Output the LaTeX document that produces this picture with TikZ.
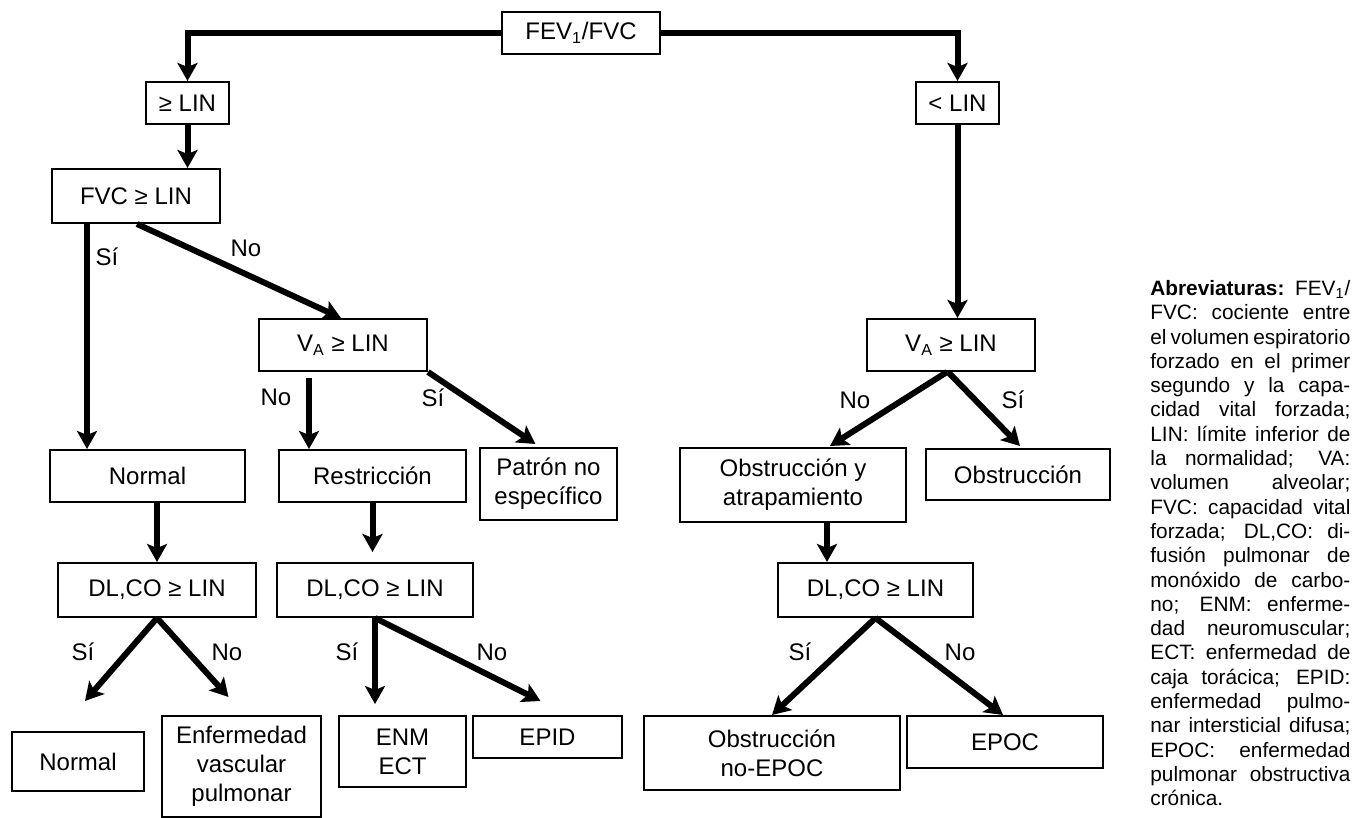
\documentclass[tikz,border=0pt]{standalone}
\usepackage{fontspec}
\setmainfont{Liberation Sans}
\usetikzlibrary{arrows.meta}
\usetikzlibrary{calc}

\begin{document}
\begin{tikzpicture}[x=0.5pt,y=-0.5pt,
  box/.style={draw, line width=1pt, inner sep=0pt, align=center, font=\fontsize{12}{14.4}\selectfont},
  lbl/.style={inner sep=0pt, font=\fontsize{12}{14.4}\selectfont},
  link/.style={line width=3pt, -{Stealth[length=9pt,width=10pt,inset=2pt]}},
  abrv/.style={inner sep=0pt, text width=100pt, align=justify, font=\fontsize{10.4}{12.15}\selectfont}]
  \useasboundingbox (0,0) rectangle (1360,818);

  % boxes
  \node[box, minimum width=79pt, minimum height=21pt] (fev) at (581,33) {FEV\textsubscript{1}/FVC};
  \node[box, minimum width=41.5pt, minimum height=21pt] (gelin) at (187.5,103) {≥ LIN};
  \node[box, minimum width=41.5pt, minimum height=21pt] (ltlin) at (957.5,103) {< LIN};
  \node[box, minimum width=84pt, minimum height=27pt] (fvc) at (136,196) {FVC ≥ LIN};
  \node[box, minimum width=84pt, minimum height=26pt] (vaA) at (343,345) {V\textsubscript{A} ≥ LIN};
  \node[box, minimum width=84pt, minimum height=26pt] (vaB) at (951,345) {V\textsubscript{A} ≥ LIN};
  \node[box, minimum width=97.5pt, minimum height=26pt] (normA) at (147.5,476) {Normal};
  \node[box, minimum width=93.5pt, minimum height=26pt] (restr) at (372.5,476) {Restricción};
  \node[box, minimum width=68.5pt, minimum height=36pt] (patron) at (548.5,484) {Patrón no\\específico};
  \node[box, minimum width=113pt, minimum height=37pt] (obsatr) at (793,485) {Obstrucción y\\atrapamiento};
  \node[box, minimum width=92pt, minimum height=25.5pt] (obstr) at (1018,474.5) {Obstrucción};
  \node[box, minimum width=99pt, minimum height=27pt] (dlcoA) at (157,590) {DL,CO ≥ LIN};
  \node[box, minimum width=98pt, minimum height=27pt] (dlcoB) at (375,590) {DL,CO ≥ LIN};
  \node[box, minimum width=97.5pt, minimum height=27pt] (dlcoC) at (875.5,590) {DL,CO ≥ LIN};
  \node[box, minimum width=66pt, minimum height=29.5pt] (normB) at (78,761.5) {Normal};
  \node[box, minimum width=79.5pt, minimum height=50.5pt] (evp) at (241.5,766.5) {Enfermedad\\vascular\\pulmonar};
  \node[box, minimum width=63.5pt, minimum height=35.5pt] (enmect) at (402.5,751.5) {ENM\\ECT};
  \node[box, minimum width=74.5pt, minimum height=21pt] (epid) at (547.5,737) {EPID};
  \node[box, minimum width=128pt, minimum height=37pt] (obsno) at (772,753) {Obstrucción\\no-EPOC};
  \node[box, minimum width=98pt, minimum height=26pt] (epoc) at (1005,742) {EPOC};

  % arrows
  \draw[link] (fev.west) -| (gelin.north);
  \draw[link] (fev.east) -| (ltlin.north);
  \draw[link] (gelin.south) -- (gelin.south |- fvc.north);
  \draw[link] ($(fvc.south)+(-49,0)$) -- ($(normA.north)+(-60.5,0)$);
  \draw[link] ($(fvc.south)+(1,0)$) -- ($(vaA.north)+(-2,0)$);
  \draw[link] ($(vaA.south)+(-34,6)$) -- ($(restr.north)+(-63.5,0)$);
  \draw[link] (vaA.south east) -- ($(patron.north)+(-13,-3)$);
  \draw[link] (dlcoA.north |- normA.south) -- (dlcoA.north);
  \draw[link, shorten >=5pt] (restr.south) -- (restr.south |- dlcoB.north);
  \draw[link] (dlcoA.south) -- ($(normB.north)+(7,-30)$);
  \draw[link] (dlcoA.south) -- ($(evp.north)+(-13,-18)$);
  \draw[link, shorten >=5.5pt] (dlcoB.south) -- (dlcoB.south |- enmect.north);
  \draw[link] (dlcoB.south) -- ($(epid.north)+(-7,-14)$);
  \draw[link] (ltlin.south) -- (ltlin.south |- vaB.north);
  \draw[link] ($(vaB.south)+(-4,0)$) -- ($(obsatr.north)+(37,-1)$);
  \draw[link] ($(vaB.south)+(-3,0)$) -- ($(obstr.north)+(2,-2)$);
  \draw[link] ($(obsatr.south)+(34,0)$) -- ($(dlcoC.north)+(-48.5,0)$);
  \draw[link] (dlcoC.south) -- (obsno.north);
  \draw[link] (dlcoC.south) -- ($(epoc.north)+(-2,0)$);

  % labels
  \node[lbl] (siA) at (107,257) {Sí};
  \node[lbl] (noA) at (246,248) {No};
  \node[lbl] (noB) at (276,397) {No};
  \node[lbl] (siB) at (433,398) {Sí};
  \node[lbl] (noC) at (855,400) {No};
  \node[lbl] (siC) at (1013,400) {Sí};
  \node[lbl] (siD) at (83,652) {Sí};
  \node[lbl] (noD) at (227,652) {No};
  \node[lbl] (siE) at (347,652) {Sí};
  \node[lbl] (noE) at (492,652) {No};
  \node[lbl] (siF) at (800,652) {Sí};
  \node[lbl] (noF) at (960,652) {No};

  \node[abrv, anchor=north west] (abrev) at (1150,280) {\textbf{Abreviaturas:} FEV\textsubscript{1}/\linebreak
    FVC: cociente entre\linebreak el volumen espiratorio\linebreak forzado en el primer\linebreak
    segundo y la capa-\linebreak cidad vital forzada;\linebreak LIN: límite inferior de\linebreak
    la normalidad; VA:\linebreak volumen alveolar;\linebreak FVC: capacidad vital\linebreak
    forzada; DL,CO: di-\linebreak fusión pulmonar de\linebreak monóxido de carbo-\linebreak
    no; ENM: enferme-\linebreak dad neuromuscular;\linebreak ECT: enfermedad de\linebreak
    caja torácica; EPID:\linebreak enfermedad pulmo-\linebreak nar intersticial difusa;\linebreak
    EPOC: enfermedad\linebreak pulmonar obstructiva\linebreak crónica.};
\end{tikzpicture}
\end{document}
